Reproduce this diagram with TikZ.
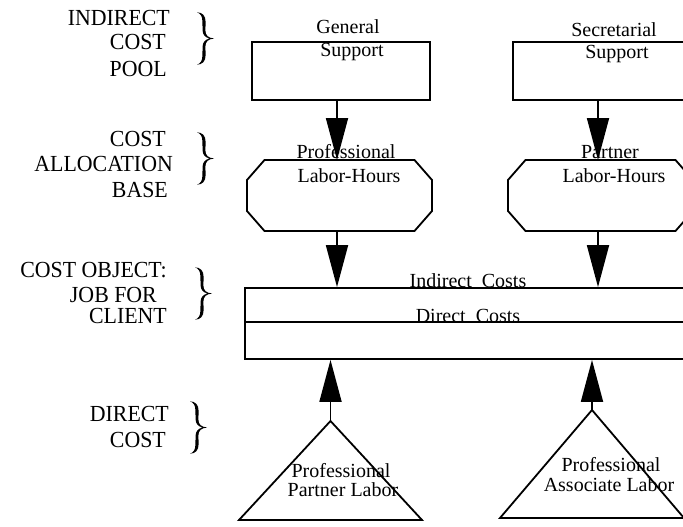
\documentclass[tikz,border=0pt]{standalone}
\usepackage{fontspec}
\setmainfont{Liberation Serif}
\newfontfamily\captionface{Liberation Serif}[FakeStretch=0.95]
\usetikzlibrary{arrows.meta}

% octagonal frame drawn round a (borderless) placeholder node
\newcommand\octframe[1]{%
  \draw[outline] ([xshift=17.5pt]#1.north west) -- ([xshift=-17.5pt]#1.north east)
    -- ([yshift=-20pt]#1.north east) -- ([yshift=20pt]#1.south east)
    -- ([xshift=-17.5pt]#1.south east) -- ([xshift=17.5pt]#1.south west)
    -- ([yshift=20pt]#1.south west) -- ([yshift=-20pt]#1.north west) -- cycle;}

\begin{document}
\begin{tikzpicture}[x=1pt,y=-1pt,
  outline/.style={draw=black, line width=1.8pt},
  boxnode/.style={outline, rectangle, inner sep=0pt},
  ghost/.style={inner sep=0pt, outer sep=0pt},
  flow/.style={line width=1.8pt, -{Triangle[length=42pt,width=22pt]}},
  midtext/.style={inner sep=0pt, anchor=base, font=\fontsize{20}{24}\selectfont},
  sidetext/.style={inner sep=0pt, anchor=base east, font=\captionface\fontsize{23}{26}\selectfont},
  % right-hand curly brace, 17 wide and 53 tall, origin at its top-left
  curly/.pic={
    \fill (0,0.3) .. controls (5.5,0.6) and (8.6,3.5) .. (8.6,10)
      -- (8.4,18.5)
      .. controls (8.3,23.5) and (11.5,26) .. (17,26.5)
      .. controls (11.5,27) and (8.3,29.5) .. (8.4,34.5)
      -- (8.6,43)
      .. controls (8.6,49.5) and (5.5,52.4) .. (0,52.7)
      .. controls (3.8,51.3) and (5.4,48.5) .. (5.4,43.5)
      -- (5.6,34.5)
      .. controls (5.7,30) and (8.5,27.5) .. (12.5,26.5)
      .. controls (8.5,25.5) and (5.7,23) .. (5.6,18.5)
      -- (5.4,9.5)
      .. controls (5.4,4.5) and (3.8,1.7) .. (0,0.3) -- cycle;
  }
]
\useasboundingbox (0,0) rectangle (683,527);
\clip (0,0) rectangle (683,527);

% column positions of the connectors
\coordinate (colA) at (337,0);
\coordinate (colB) at (598,0);
\coordinate (split) at (0,322);

% indirect cost pools
\node[boxnode, minimum width=178pt, minimum height=58pt] (gs) at (341,71) {};
\node[boxnode, minimum width=180pt, minimum height=58pt] (ss) at (603,71) {};

% cost allocation bases
\node[ghost, minimum width=185pt, minimum height=71pt] (plh) at (339.5,195.5) {};
\node[ghost, minimum width=185pt, minimum height=71pt] (ptlh) at (600.5,195.5) {};
\octframe{plh}
\octframe{ptlh}

% cost object
\node[boxnode, minimum width=460pt, minimum height=71pt] (job) at (475,323.5) {};
\draw[draw=black, line width=1.5pt] (job.west |- split) -- (job.east |- split);

% direct costs
\node[ghost, minimum width=183pt, minimum height=99pt] (ppl) at (330.5,470.5) {};
\node[ghost, minimum width=184pt, minimum height=108pt] (pal) at (592,464) {};
\draw[outline] (ppl.south west) -- (ppl.north) -- (ppl.south east) -- cycle;
\draw[outline] (pal.south west) -- (pal.north) -- (pal.south east) -- cycle;

% labels inside the shapes
\node[midtext] (t1a) at (348,33.5) {General};
\node[midtext] (t1b) at (352,57) {Support};
\node[midtext] (t2a) at (614,37) {Secretarial};
\node[midtext] (t2b) at (617,59) {Support};
\node[midtext] (t3a) at (346,158) {Professional};
\node[midtext] (t3b) at (349,182) {Labor-Hours};
\node[midtext] (t4a) at (610,158) {Partner};
\node[midtext] (t4b) at (614,182) {Labor-Hours};
\node[midtext] (t5) at (468,287) {Indirect\ \ Costs};
\node[midtext] (t6) at (468,322) {Direct\ \ Costs};
\node[midtext] (t7a) at (341,477) {Professional};
\node[midtext] (t7b) at (343,496) {Partner Labor};
\node[midtext] (t8a) at (611,471) {Professional};
\node[midtext] (t8b) at (609,491) {Associate Labor};

% connectors
\draw[flow] (gs.south -| colA) -- (plh.north -| colA);
\draw[flow] (ss.south -| colB) -- (ptlh.north -| colB);
\draw[flow] (plh.south -| colA) -- (job.north -| colA);
\draw[flow] (ptlh.south -| colB) -- (job.north -| colB);
\draw[flow] (ppl.north) -- (job.south -| ppl.north);
\draw[flow] (pal.north) -- (job.south -| pal.north);

% level captions
\node[sidetext] (a1) at (170,26) {INDIRECT};
\node[sidetext] (a2) at (166,50) {COST};
\node[sidetext] (a3) at (167,77) {POOL};
\node[sidetext] (b1) at (166,146) {COST};
\node[sidetext] (b2) at (173,171) {ALLOCATION};
\node[sidetext] (b3) at (168,197) {BASE};
\node[sidetext] (c1) at (167,277) {COST OBJECT:};
\node[sidetext] (c2) at (157,302) {JOB FOR};
\node[sidetext] (c3) at (167,323) {CLIENT};
\node[sidetext] (d1) at (169,421) {DIRECT};
\node[sidetext] (d2) at (166,447) {COST};

% braces grouping the captions
\pic at (197,12) {curly};
\pic at (197,132) {curly};
\pic at (195,267) {curly};
\pic at (190,401) {curly};
\end{tikzpicture}
\end{document}
